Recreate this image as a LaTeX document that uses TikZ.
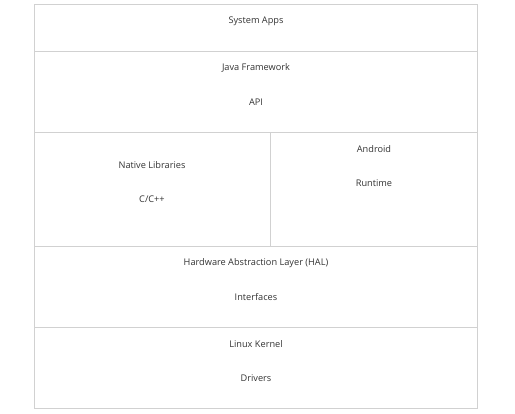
\documentclass[tikz,border=0pt]{standalone}
\usepackage{fontspec}
\setmainfont{Open Sans}
\tikzset{
  cell/.style={draw=black!18, line width=0.9pt},
  txt/.style={text=black!80, font=\fontsize{9.2}{11}\selectfont, inner sep=0pt}
}
\begin{document}
\begin{tikzpicture}[x=1pt,y=-1pt]
    \useasboundingbox (0,0) rectangle (515,414);
    \draw[cell] (34,4) rectangle (477,51);
    \draw[cell] (34,51) rectangle (477,132);
    \draw[cell] (34,132) rectangle (270,246);
    \draw[cell] (270,132) rectangle (477,246);
    \draw[cell] (34,246) rectangle (477,327);
    \draw[cell] (34,327) rectangle (477,408);
    \node[txt] (apps) at (256,21) {System Apps};
    \node[txt] (java) at (256,68) {Java Framework};
    \node[txt] (api) at (256,102) {API};
    \node[txt] (native) at (152,165) {Native Libraries};
    \node[txt] (cpp) at (152,199) {C/C++};
    \node[txt] (android) at (374,149) {Android};
    \node[txt] (runtime) at (374,183) {Runtime};
    \node[txt] (hal) at (256,263) {Hardware Abstraction Layer (HAL)};
    \node[txt] (iface) at (256,297) {Interfaces};
    \node[txt] (kernel) at (256,344) {Linux Kernel};
    \node[txt] (drivers) at (256,378) {Drivers};
\end{tikzpicture}
\end{document}
